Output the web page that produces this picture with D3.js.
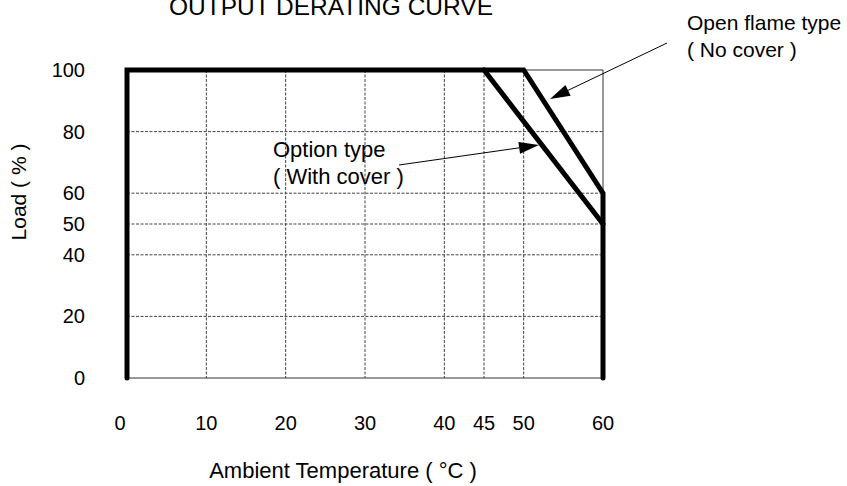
<!DOCTYPE html>
<html>
<head>
<meta charset="utf-8">
<script src="https://cdn.jsdelivr.net/npm/d3@7"></script>
<style>
  body { margin: 0; background: #fff; }
  svg text { font-family: "Liberation Sans", Arial, sans-serif; fill: #000; }
</style>
</head>
<body>
<div id="chart"></div>
<script>
// values
var xTicks = [0, 10, 20, 30, 40, 45, 50, 60];
var yTicks = [0, 20, 40, 50, 60, 80, 100];
var xGrid = [10, 20, 30, 40, 45, 50];
var yGrid = [20, 40, 50, 60, 80];
var openFlame = [[0, 0], [0, 100], [50, 100], [60, 60], [60, 0]];
var optionType = [[45, 100], [60, 50]];

var width = 847, height = 486;

var x = d3.scaleLinear().domain([0, 60]).range([127, 603]);
var y = d3.scaleLinear().domain([0, 100]).range([378, 70]);

var svg = d3.select("#chart").append("svg")
    .attr("width", width)
    .attr("height", height);

// dashed grid
svg.selectAll(".vgrid")
    .data(xGrid)
  .enter().append("line")
    .attr("class", "vgrid")
    .attr("x1", function(d) { return x(d); })
    .attr("x2", function(d) { return x(d); })
    .attr("y1", y(100))
    .attr("y2", y(0))
    .attr("stroke", "#444")
    .attr("stroke-width", 1)
    .attr("stroke-dasharray", "3,1.5");

svg.selectAll(".hgrid")
    .data(yGrid)
  .enter().append("line")
    .attr("class", "hgrid")
    .attr("x1", x(0))
    .attr("x2", x(60))
    .attr("y1", function(d) { return y(d); })
    .attr("y2", function(d) { return y(d); })
    .attr("stroke", "#444")
    .attr("stroke-width", 1)
    .attr("stroke-dasharray", "3,1.5");

// thin frame (top right part, right side, bottom)
svg.append("path")
    .attr("d", d3.line()([[x(50), y(100)], [x(60), y(100)], [x(60), y(0)], [x(0), y(0)]]))
    .attr("fill", "none")
    .attr("stroke", "#333")
    .attr("stroke-width", 1);

var line = d3.line()
    .x(function(d) { return x(d[0]); })
    .y(function(d) { return y(d[1]); });

svg.append("path")
    .datum(openFlame)
    .attr("d", line)
    .attr("fill", "none")
    .attr("stroke", "#000")
    .attr("stroke-width", 5)
    .attr("stroke-linecap", "round");

svg.append("path")
    .datum(optionType)
    .attr("d", line)
    .attr("fill", "none")
    .attr("stroke", "#000")
    .attr("stroke-width", 5)
    .attr("stroke-linecap", "round");

// tick labels
svg.selectAll(".ylab")
    .data(yTicks)
  .enter().append("text")
    .attr("class", "ylab")
    .attr("x", 85)
    .attr("y", function(d) { return y(d); })
    .attr("dy", "0.35em")
    .attr("text-anchor", "end")
    .style("font-size", "20px")
    .text(function(d) { return d; });

svg.selectAll(".xlab")
    .data(xTicks)
  .enter().append("text")
    .attr("class", "xlab")
    .attr("x", function(d) { return x(d) + (d === 0 ? -7 : 0); })
    .attr("y", 430)
    .attr("text-anchor", "middle")
    .style("font-size", "20px")
    .text(function(d) { return d; });

// titles
svg.append("text")
    .attr("x", 331)
    .attr("y", 15)
    .attr("text-anchor", "middle")
    .style("font-size", "24.5px")
    .text("OUTPUT DERATING CURVE");

svg.append("text")
    .attr("x", 343)
    .attr("y", 478)
    .attr("text-anchor", "middle")
    .style("font-size", "22px")
    .text("Ambient Temperature ( °C )");

svg.append("text")
    .attr("transform", "translate(26,192)rotate(-90)")
    .attr("text-anchor", "middle")
    .style("font-size", "21px")
    .text("Load ( % )");

// annotations
function arrow(x1, y1, x2, y2) {
  var a = Math.atan2(y2 - y1, x2 - x1), len = 20, hw = 6;
  var bx = x2 - len * Math.cos(a), by = y2 - len * Math.sin(a);
  svg.append("line")
      .attr("x1", x1).attr("y1", y1)
      .attr("x2", bx).attr("y2", by)
      .attr("stroke", "#000")
      .attr("stroke-width", 1);
  svg.append("path")
      .attr("d", "M" + x2 + "," + y2 +
        "L" + (bx + hw * Math.sin(a)) + "," + (by - hw * Math.cos(a)) +
        "L" + (bx - hw * Math.sin(a)) + "," + (by + hw * Math.cos(a)) + "Z")
      .attr("fill", "#000");
}

svg.append("text")
    .attr("x", 687)
    .attr("y", 30)
    .style("font-size", "21px")
    .text("Open flame type");
svg.append("text")
    .attr("x", 687)
    .attr("y", 57)
    .style("font-size", "21px")
    .text("( No cover )");
arrow(667, 43, 550, 99);

svg.append("text")
    .attr("x", 273)
    .attr("y", 157)
    .style("font-size", "22px")
    .text("Option type");
svg.append("text")
    .attr("x", 273)
    .attr("y", 184)
    .style("font-size", "22px")
    .text("( With cover )");
arrow(399, 165, 539, 145);
</script>
</body>
</html>
